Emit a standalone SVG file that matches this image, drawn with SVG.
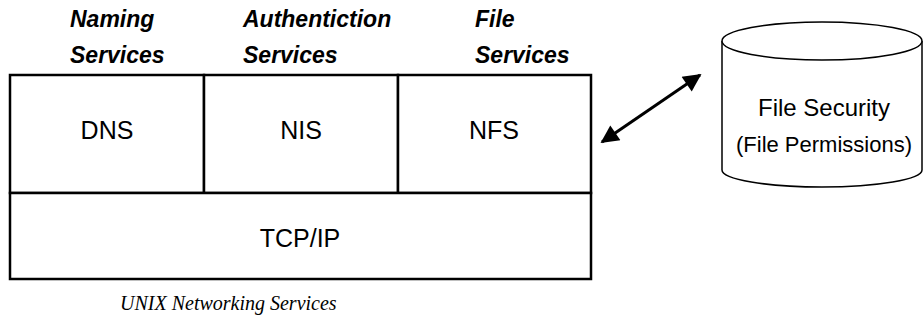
<svg xmlns="http://www.w3.org/2000/svg" width="924" height="324" viewBox="0 0 924 324">
  <style>
    .box { fill: #fff; stroke: #000; stroke-width: 2.5; }
    .head { font-family: "Liberation Sans", Arial, sans-serif; font-size: 23px; font-weight: bold; font-style: italic; fill: #000; }
    .lbl { font-family: "Liberation Sans", Arial, sans-serif; font-size: 25px; fill: #000; text-anchor: middle; }
    .db { font-family: "Liberation Sans", Arial, sans-serif; fill: #000; text-anchor: middle; }
    .cap { font-family: "Liberation Serif", "Times New Roman", serif; font-size: 20px; font-style: italic; fill: #000; }
    .link { stroke: #000; stroke-width: 3; fill: none; }
  </style>
  <defs>
    <marker id="tip" viewBox="0 0 10 10" refX="9" refY="5" markerWidth="22" markerHeight="18" markerUnits="userSpaceOnUse" orient="auto-start-reverse">
      <path d="M0,0 L10,5 L0,10 z" fill="#000"/>
    </marker>
  </defs>
  <rect width="924" height="324" fill="#fff"/>

  <!-- column headings -->
  <g id="headings">
    <text class="head" x="70" y="27">Naming</text>
    <text class="head" x="70" y="63">Services</text>
    <text class="head" x="243" y="27">Authentiction</text>
    <text class="head" x="243" y="63">Services</text>
    <text class="head" x="475" y="27">File</text>
    <text class="head" x="475" y="63">Services</text>
  </g>

  <!-- protocol stack -->
  <g id="dns">
    <rect class="box" x="10" y="75" width="194" height="118"/>
    <text class="lbl" x="107" y="139">DNS</text>
  </g>
  <g id="nis">
    <rect class="box" x="204" y="75" width="194" height="118"/>
    <text class="lbl" x="301" y="139">NIS</text>
  </g>
  <g id="nfs">
    <rect class="box" x="398" y="75" width="193" height="118"/>
    <text class="lbl" x="494" y="139">NFS</text>
  </g>
  <g id="tcpip">
    <rect class="box" x="10" y="193" width="581" height="86"/>
    <text class="lbl" x="300" y="247">TCP/IP</text>
  </g>

  <!-- file security store -->
  <g id="file-security">
    <path d="M722,41 L722,170 A100,17 0 0 0 922,170 L922,41" fill="#fff" stroke="#000" stroke-width="1.5"/>
    <ellipse cx="822" cy="41" rx="100" ry="19" fill="#fff" stroke="#000" stroke-width="1.5"/>
    <text class="db" x="824" y="116" font-size="24">File Security</text>
    <text class="db" x="824" y="152" font-size="22">(File Permissions)</text>
  </g>

  <!-- connectors -->
  <g id="connectors">
    <line class="link" x1="602" y1="142" x2="700" y2="75" marker-start="url(#tip)" marker-end="url(#tip)"/>
  </g>

  <text class="cap" x="120" y="310">UNIX Networking Services</text>
</svg>
